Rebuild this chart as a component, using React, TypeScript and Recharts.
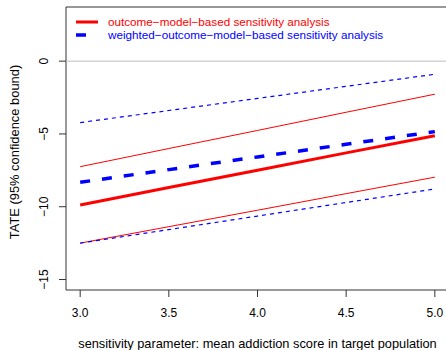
import { LineChart, Line, XAxis, YAxis, ReferenceLine, ReferenceArea } from "recharts";

const params = [3.0, 3.5, 4.0, 4.5, 5.0];
const omCenter = [-9.88, -8.68, -7.5, -6.3, -5.12];
const omUpper = [-7.25, -6.0, -4.76, -3.51, -2.27];
const omLower = [-12.5, -11.37, -10.24, -9.1, -7.97];
const wCenter = [-8.32, -7.45, -6.58, -5.71, -4.84];
const wUpper = [-4.22, -3.39, -2.56, -1.73, -0.9];
const wLower = [-12.5, -11.57, -10.64, -9.71, -8.78];
const xTicks = [3.0, 3.5, 4.0, 4.5, 5.0];
const yTicks = [0, -5, -10, -15];

const X_DOMAIN: [number, number] = [2.92, 5.08];
const Y_DOMAIN: [number, number] = [-15.72, 3.72];

const FONT = '"Liberation Sans", Arial, Helvetica, sans-serif';
const RED = "#ff0000";
const BLUE = "#0000ff";

const data = params.map((p, i) => ({
  p,
  omCenter: omCenter[i],
  omUpper: omUpper[i],
  omLower: omLower[i],
  wCenter: wCenter[i],
  wUpper: wUpper[i],
  wLower: wLower[i],
}));

const fmtNum = (v: number) => (v < 0 ? "\u2212" + Math.abs(v) : String(v));

function YTick(props: any) {
  const { y, payload } = props;
  return (
    <text
      x={48}
      y={y}
      transform={`rotate(-90 48 ${y})`}
      textAnchor="middle"
      fontSize={12}
      fontFamily={FONT}
      fill="#000"
    >
      {fmtNum(payload.value)}
    </text>
  );
}

export default function App() {
  return (
    <div
      style={{
        position: "fixed",
        left: 0,
        top: 0,
        width: 446,
        height: 350,
        overflow: "hidden",
        background: "#fff",
        fontFamily: FONT,
      }}
    >
      <LineChart
        width={460}
        height={350}
        data={data}
        margin={{ top: 7, right: 11, bottom: 0, left: 0 }}
      >
        <XAxis
          dataKey="p"
          type="number"
          domain={X_DOMAIN}
          ticks={xTicks}
          allowDataOverflow
          axisLine={false}
          tickSize={7}
          tickMargin={11}
          height={60}
          tickLine={{ stroke: "#333" }}
          tick={{ fontSize: 12, fontFamily: FONT, fill: "#000" }}
          tickFormatter={(v: number) => v.toFixed(1)}
          label={{
            value: "sensitivity parameter: mean addiction score in target population",
            position: "insideBottom",
            offset: 2,
            fontSize: 12.8,
            fontFamily: FONT,
            fill: "#000",
          }}
        />
        <YAxis
          type="number"
          domain={Y_DOMAIN}
          ticks={yTicks}
          allowDataOverflow
          axisLine={false}
          width={66}
          tickSize={7}
          tickLine={{ stroke: "#333" }}
          tick={<YTick />}
          label={{
            content: () => (
              <text
                x={19}
                y={152}
                transform="rotate(-90 19 152)"
                textAnchor="middle"
                fontSize={12.9}
                fontFamily={FONT}
                fill="#000"
              >
                TATE (95% confidence bound)
              </text>
            ),
          }}
        />
        <ReferenceLine y={0} stroke="#bebebe" strokeWidth={1} />
        <ReferenceArea
          x1={X_DOMAIN[0]}
          x2={X_DOMAIN[1]}
          y1={Y_DOMAIN[0]}
          y2={Y_DOMAIN[1]}
          fill="none"
          stroke="#333"
          strokeWidth={1}
        />
        <Line dataKey="omUpper" stroke={RED} strokeWidth={1} dot={false} isAnimationActive={false} />
        <Line dataKey="omLower" stroke={RED} strokeWidth={1} dot={false} isAnimationActive={false} />
        <Line dataKey="wUpper" stroke={BLUE} strokeWidth={1.2} strokeDasharray="4 4" dot={false} isAnimationActive={false} />
        <Line dataKey="wLower" stroke={BLUE} strokeWidth={1.2} strokeDasharray="4 4" dot={false} isAnimationActive={false} />
        <Line dataKey="omCenter" stroke={RED} strokeWidth={3} dot={false} isAnimationActive={false} />
        <Line dataKey="wCenter" stroke={BLUE} strokeWidth={3.5} strokeDasharray="10 12" dot={false} isAnimationActive={false} />
      </LineChart>
      <div style={{ position: "absolute", left: 76, top: 15, fontSize: 11.7, lineHeight: "13px" }}>
        <div style={{ display: "flex", alignItems: "center", height: 13 }}>
          <svg width={32} height={13}>
            <line x1={0} y1={7} x2={22} y2={7} stroke={RED} strokeWidth={3} />
          </svg>
          <span style={{ color: RED }}>outcome{"\u2212"}model{"\u2212"}based sensitivity analysis</span>
        </div>
        <div style={{ display: "flex", alignItems: "center", height: 13 }}>
          <svg width={32} height={13}>
            <line x1={0} y1={7} x2={10} y2={7} stroke={BLUE} strokeWidth={3.5} />
          </svg>
          <span style={{ color: BLUE }}>weighted{"\u2212"}outcome{"\u2212"}model{"\u2212"}based sensitivity analysis</span>
        </div>
      </div>
    </div>
  );
}
